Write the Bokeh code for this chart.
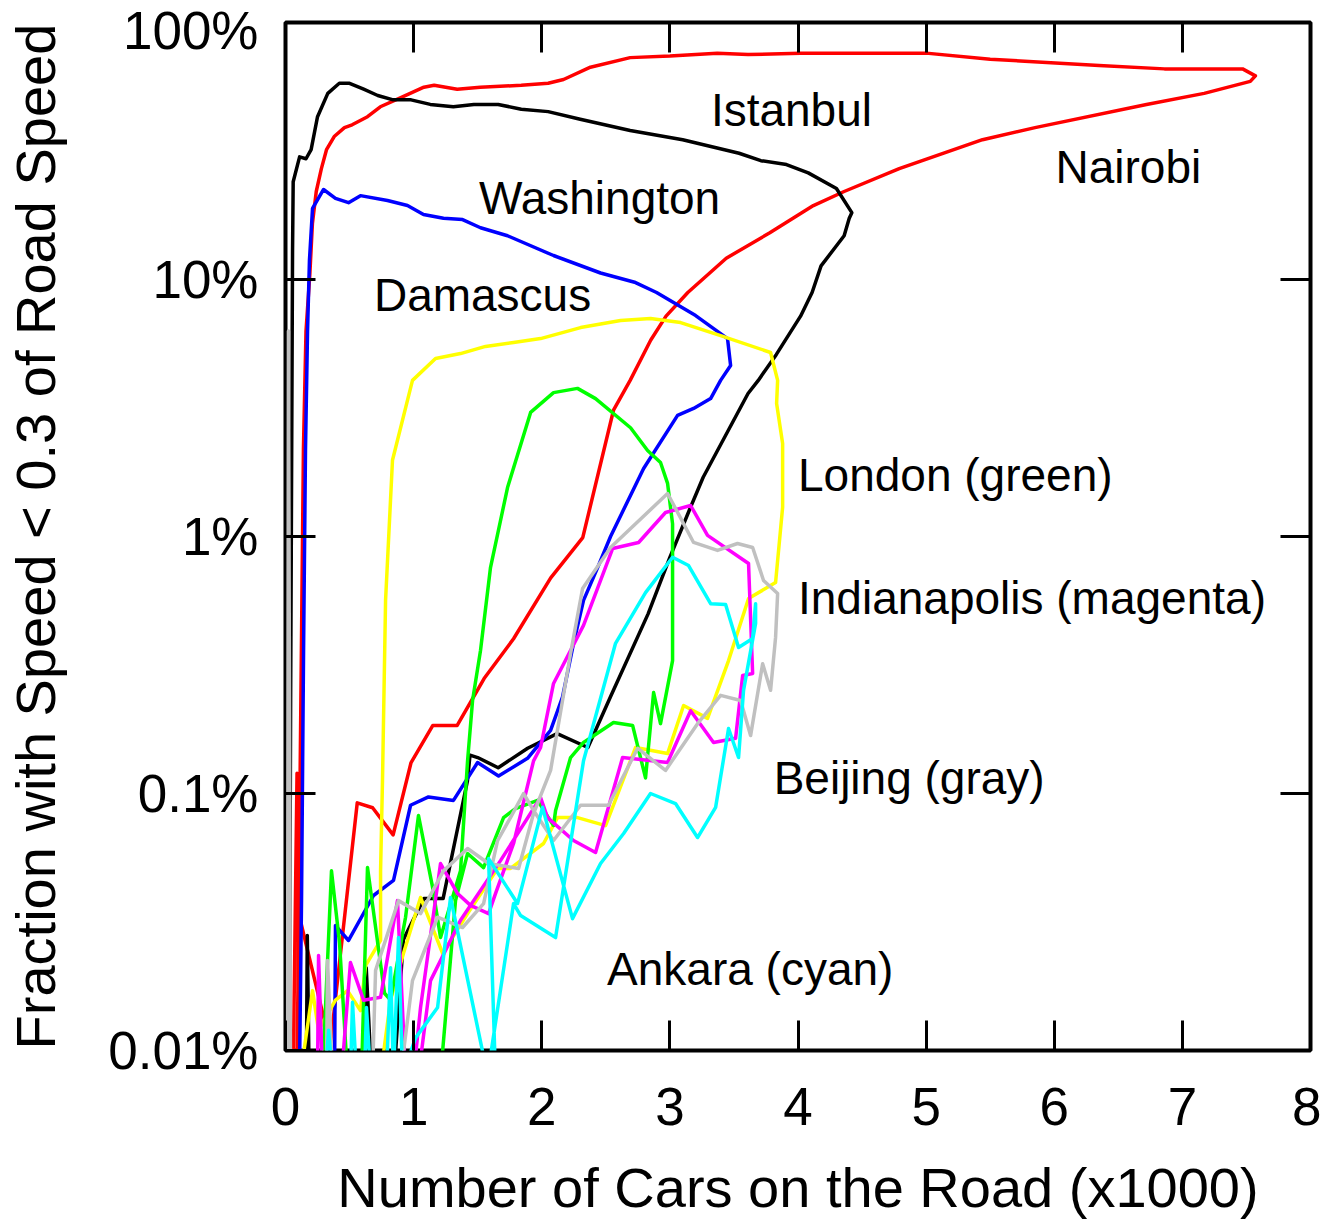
from bokeh.plotting import figure
from bokeh.models import FixedTicker, LinearAxis, LogAxis, Range1d, ColumnDataSource
from bokeh.embed import file_html
from bokeh.resources import INLINE
from bokeh.core.properties import value

FONT = "Liberation Sans"

# ---------------- data (x in thousands of cars, y in percent) ----------------
X_TICKS = [0, 1, 2, 3, 4, 5, 6, 7, 8]
Y_TICKS = [0.01, 0.1, 1, 10, 100]
Y_TICK_LABELS = ["0.01%", "0.1%", "1%", "10%", "100%"]

NAIROBI_X = [0.09, 0.12, 0.14, 0.16, 0.19, 0.21, 0.24, 0.28, 0.32, 0.38, 0.46, 0.52, 0.64, 0.74, 0.90, 1.08,
             1.16, 1.34, 1.52, 1.84, 2.05, 2.17, 2.38, 2.69, 3.00, 3.37, 3.61, 4.02, 4.38, 5.00, 5.50, 6.35,
             6.86, 7.47, 7.57, 7.53, 7.17, 6.72, 5.85, 5.44, 4.79, 4.36, 4.12, 3.78, 3.44, 3.14, 2.97, 2.85,
             2.69, 2.56, 2.32, 2.07, 1.78, 1.55, 1.34, 1.15, 0.98, 0.84, 0.68, 0.56, 0.35, 0.11, 0.09, 0.06]
NAIROBI_Y = [0.008, 0.23, 2.2, 6.3, 10.5, 16.5, 22, 27, 32, 36, 39, 40, 43, 47, 51, 56,
             57, 55, 56, 57, 58, 60, 67, 73, 74, 76, 75, 76, 76, 76, 72, 68,
             66, 66, 62, 59, 53, 48, 39, 35, 27, 22, 19.4, 15.2, 12.1, 8.9, 7.2, 5.8,
             4.05, 3.1, 0.99, 0.69, 0.40, 0.28, 0.184, 0.184, 0.132, 0.069, 0.088, 0.092, 0.0105, 0.033, 0.12, 0.008]

ISTANBUL_X = [0.03, 0.04, 0.05, 0.055, 0.06, 0.11, 0.16, 0.20, 0.25, 0.33, 0.42, 0.50, 0.61, 0.72, 0.84, 0.98,
              1.13, 1.31, 1.47, 1.66, 1.84, 2.05, 2.30, 2.69, 3.10, 3.54, 3.71, 3.91, 4.08, 4.30, 4.42, 4.40,
              4.36, 4.18, 4.11, 4.02, 3.83, 3.69, 3.61, 3.26, 3.15, 3.00, 2.83, 2.54, 2.36, 2.12, 1.89, 1.66,
              1.50, 1.44, 1.42, 1.23, 1.08, 0.92, 0.86, 0.78, 0.69, 0.63, 0.59, 0.27, 0.19, 0.17, 0.16]
ISTANBUL_Y = [0.008, 0.23, 3.4, 13, 24, 30, 29.5, 32, 43, 53, 58, 58, 55, 52, 50, 50,
              48, 47, 48, 48, 46, 45, 42, 38, 35, 31, 29, 28, 26, 22.6, 18.2, 17.3,
              14.8, 11.3, 8.9, 7.2, 5.1, 4.05, 3.6, 1.7, 1.26, 0.83, 0.50, 0.24, 0.151, 0.171, 0.150, 0.126,
              0.138, 0.141, 0.112, 0.039, 0.039, 0.027, 0.010, 0.005, 0.005, 0.021, 0.005, 0.005, 0.005, 0.028, 0.005]

WASHINGTON_X = [0.109, 0.125, 0.141, 0.156, 0.172, 0.187, 0.211, 0.297, 0.390, 0.492, 0.585, 0.796, 0.952,
                1.077, 1.233, 1.382, 1.522, 1.733, 2.092, 2.459, 2.732, 2.896, 3.201, 3.450, 3.474, 3.396,
                3.318, 3.185, 3.060, 2.795, 2.537, 2.436, 2.326, 2.248, 2.162, 2.069, 1.889, 1.663, 1.499,
                1.311, 1.116, 0.976, 0.843, 0.687, 0.492, 0.390, 0.383]
WASHINGTON_Y = [0.008, 0.038, 0.36, 2.16, 6.3, 11.9, 18.9, 22.4, 20.7, 19.9, 21.2, 20.3, 19.4,
                17.9, 17.3, 17.1, 15.9, 14.8, 12.4, 10.6, 9.73, 8.9, 7.24, 5.89, 4.63, 4.05,
                3.44, 3.15, 2.96, 1.84, 1.0, 0.757, 0.564, 0.384, 0.237, 0.176, 0.137, 0.117, 0.132,
                0.094, 0.097, 0.090, 0.0459, 0.0401, 0.0268, 0.0306, 0.008]

DAMASCUS_X = [0.117, 0.211, 0.258, 0.390, 0.484, 0.585, 0.625, 0.742, 0.742, 0.757, 0.781, 0.835, 0.991,
              1.171, 1.366, 1.561, 1.780, 1.991, 2.303, 2.615, 2.849, 3.084, 3.396, 3.786, 3.841, 3.833,
              3.880, 3.880, 3.825, 3.614, 3.458, 3.294, 3.107, 2.982, 2.732, 2.498, 2.279, 2.123, 2.014,
              1.756, 1.655, 1.421, 1.226, 1.054, 0.921, 0.820, 0.742]
DAMASCUS_Y = [0.008, 0.0171, 0.0120, 0.0157, 0.0171, 0.0143, 0.0214, 0.0268, 0.050, 0.112, 0.564, 1.98, 4.05,
              4.93, 5.15, 5.49, 5.69, 5.89, 6.50, 6.92, 7.05, 6.80, 6.05, 5.20, 4.05, 3.29,
              2.30, 1.30, 0.662, 0.574, 0.329, 0.196, 0.220, 0.143, 0.151, 0.075, 0.0806, 0.0806, 0.0639,
              0.0511, 0.0511, 0.0341, 0.0239, 0.0394, 0.0239, 0.0157, 0.008]

LONDON_X = [0.289, 0.359, 0.422, 0.484, 0.593, 0.640, 0.773, 0.820, 0.937, 1.038, 1.148, 1.210, 1.366,
            1.421, 1.460, 1.522, 1.600, 1.733, 1.913, 2.092, 2.279, 2.420, 2.693, 2.826, 2.927, 2.982,
            3.021, 3.021, 2.927, 2.873, 2.810, 2.709, 2.560, 2.326, 2.225, 2.108, 2.092, 1.967, 1.795,
            1.702, 1.546, 1.421, 1.327, 1.210]
LONDON_Y = [0.008, 0.050, 0.0261, 0.008, 0.008, 0.0515, 0.0167, 0.0157, 0.033, 0.0821, 0.0431, 0.0275, 0.050,
            0.134, 0.23, 0.36, 0.757, 1.55, 3.04, 3.63, 3.77, 3.44, 2.65, 2.16, 1.94, 1.61,
            1.12, 0.329, 0.187, 0.247, 0.115, 0.184, 0.189, 0.158, 0.138, 0.0859, 0.075, 0.094, 0.0874,
            0.0806, 0.0515, 0.0584, 0.0383, 0.008]

INDIANAPOLIS_X = [0.250, 0.258, 0.289, 0.437, 0.507, 0.609, 0.742, 0.874, 0.937, 0.999, 1.054, 1.210, 1.343,
                  1.444, 1.585, 1.639, 1.780, 1.936, 1.991, 2.092, 2.326, 2.553, 2.756, 2.966, 3.162, 3.294,
                  3.614, 3.646, 3.568, 3.513, 3.341, 3.162, 2.982, 2.631, 2.420, 2.248, 2.045, 1.991, 1.678,
                  1.366, 1.132, 1.038]
INDIANAPOLIS_Y = [0.008, 0.0234, 0.008, 0.008, 0.0220, 0.0157, 0.0161, 0.0383, 0.008, 0.008, 0.0147, 0.0534, 0.0408,
                  0.0367, 0.0341, 0.0408, 0.0639, 0.134, 0.151, 0.268, 0.451, 0.898, 0.948, 1.24, 1.32, 1.01,
                  0.785, 0.293, 0.288, 0.164, 0.158, 0.210, 0.132, 0.138, 0.0589, 0.0656, 0.0806, 0.0965, 0.0548,
                  0.0321, 0.0187, 0.008]

BEIJING_X = [0.016, 0.023, 0.039, 0.320, 0.328, 0.367, 0.679, 0.703, 0.882, 1.054, 1.233, 1.421, 1.585,
             1.819, 1.936, 2.069, 2.225, 2.319, 2.537, 2.982, 3.185, 3.372, 3.528, 3.646, 3.731, 3.841,
             3.825, 3.786, 3.724, 3.630, 3.552, 3.396, 3.216, 2.966, 2.748, 2.521, 2.303, 2.092, 1.936,
             1.858, 1.756, 1.655, 1.546, 1.382, 1.187, 0.991, 0.898]
BEIJING_Y = [0.008, 6.3, 0.008, 0.008, 0.0224, 0.008, 0.008, 0.0205, 0.0383, 0.0341, 0.050, 0.0611, 0.0534,
             0.0511, 0.0836, 0.123, 0.351, 0.628, 0.906, 1.47, 0.948, 0.883, 0.939, 0.906, 0.674, 0.600,
             0.405, 0.252, 0.320, 0.168, 0.230, 0.241, 0.187, 0.123, 0.150, 0.090, 0.090, 0.0656, 0.0859,
             0.100, 0.0806, 0.0656, 0.0373, 0.0301, 0.033, 0.0187, 0.008]

ANKARA_X = [0.312, 0.336, 0.367, 0.507, 0.523, 0.554, 0.617, 0.632, 0.664, 0.788, 0.820, 0.843, 0.882,
            0.913, 1.015, 1.187, 1.288, 1.577, 1.780, 1.835, 2.108, 2.326, 2.576, 2.810, 3.021, 3.146,
            3.318, 3.435, 3.536, 3.646, 3.669, 3.669, 3.575, 3.536, 3.458, 3.357, 3.216, 3.044, 2.849,
            2.639, 2.459, 2.240, 2.006, 1.811, 1.585, 1.639]
ANKARA_Y = [0.008, 0.012, 0.008, 0.008, 0.0154, 0.008, 0.008, 0.0147, 0.008, 0.008, 0.0210, 0.008, 0.0275,
            0.008, 0.0112, 0.0147, 0.0394, 0.008, 0.0373, 0.0335, 0.0275, 0.134, 0.384, 0.605, 0.83, 0.771,
            0.548, 0.544, 0.370, 0.401, 0.548, 0.459, 0.252, 0.138, 0.179, 0.0883, 0.0674, 0.0914, 0.100,
            0.0699, 0.0534, 0.0326, 0.0883, 0.0373, 0.0558, 0.008]

LABEL_TEXT = ["Istanbul", "Nairobi", "Washington", "Damascus", "London (green)",
              "Indianapolis (magenta)", "Beijing (gray)", "Ankara (cyan)"]
LABEL_X = [3.32, 6.01, 1.51, 0.69, 4.00, 4.00, 3.81, 2.51]
LABEL_Y = [45.5, 27.3, 20.7, 8.67, 1.73, 0.574, 0.115, 0.0208]

SERIES = [
    (NAIROBI_X, NAIROBI_Y, "#ff0000"),
    (ISTANBUL_X, ISTANBUL_Y, "#000000"),
    (WASHINGTON_X, WASHINGTON_Y, "#0000ff"),
    (DAMASCUS_X, DAMASCUS_Y, "#ffff00"),
    (LONDON_X, LONDON_Y, "#00ff00"),
    (INDIANAPOLIS_X, INDIANAPOLIS_Y, "#ff00ff"),
    (BEIJING_X, BEIJING_Y, "#c0c0c0"),
    (ANKARA_X, ANKARA_Y, "#00ffff"),
]

# ---------------- figure ----------------
p = figure(width=1321, height=1223,
           x_range=Range1d(0, 8), y_range=Range1d(0.01, 100), y_axis_type="log",
           output_backend="svg", toolbar_location=None,
           min_border_left=285, min_border_right=11, min_border_top=22, min_border_bottom=173)
p.grid.visible = False
p.outline_line_color = "black"
p.outline_line_width = 4
p.background_fill_color = "white"
p.border_fill_color = "white"

for xs, ys, col in SERIES:
    p.line(x=xs, y=ys, line_color=col, line_width=3.5, line_join="round")

src = ColumnDataSource(dict(x=LABEL_X, y=LABEL_Y, t=LABEL_TEXT))
p.text(x="x", y="y", text="t", source=src, text_font=value(FONT), text_font_size=value("46px"),
       text_align="left", text_baseline="middle", text_color="black")


def style_axis(ax, label_size, standoff):
    ax.axis_line_color = None
    ax.major_tick_in = 30
    ax.major_tick_out = 0
    ax.minor_tick_in = 0
    ax.minor_tick_out = 0
    ax.major_tick_line_width = 3
    ax.major_tick_line_color = "black"
    ax.major_label_text_font = FONT
    ax.major_label_text_font_size = label_size
    ax.major_label_text_color = "black"
    ax.major_label_standoff = standoff


xa = p.xaxis[0]
xa.ticker = FixedTicker(ticks=X_TICKS)
style_axis(xa, "53px", 37)
xa.axis_label = "Number of Cars on the Road (x1000)"
xa.axis_label_text_font = FONT
xa.axis_label_text_font_size = "56px"
xa.axis_label_text_font_style = "normal"
xa.axis_label_text_color = "black"
xa.axis_label_standoff = 28

ya = p.yaxis[0]
ya.ticker = FixedTicker(ticks=Y_TICKS)
ya.major_label_overrides = dict(zip(Y_TICKS, Y_TICK_LABELS))
style_axis(ya, "53px", 27)
ya.axis_label = "Fraction with Speed < 0.3 of Road Speed"
ya.axis_label_text_font = FONT
ya.axis_label_text_font_size = "56px"
ya.axis_label_text_font_style = "normal"
ya.axis_label_text_color = "black"
ya.axis_label_standoff = 38

top = LinearAxis(ticker=FixedTicker(ticks=X_TICKS),
                 major_label_overrides={t: "" for t in X_TICKS})
style_axis(top, "0px", 0)
p.add_layout(top, "above")

right = LogAxis(ticker=FixedTicker(ticks=Y_TICKS),
                major_label_overrides={t: "" for t in Y_TICKS})
style_axis(right, "0px", 0)
p.add_layout(right, "right")

open("out.html", "w").write(file_html(p, INLINE))
